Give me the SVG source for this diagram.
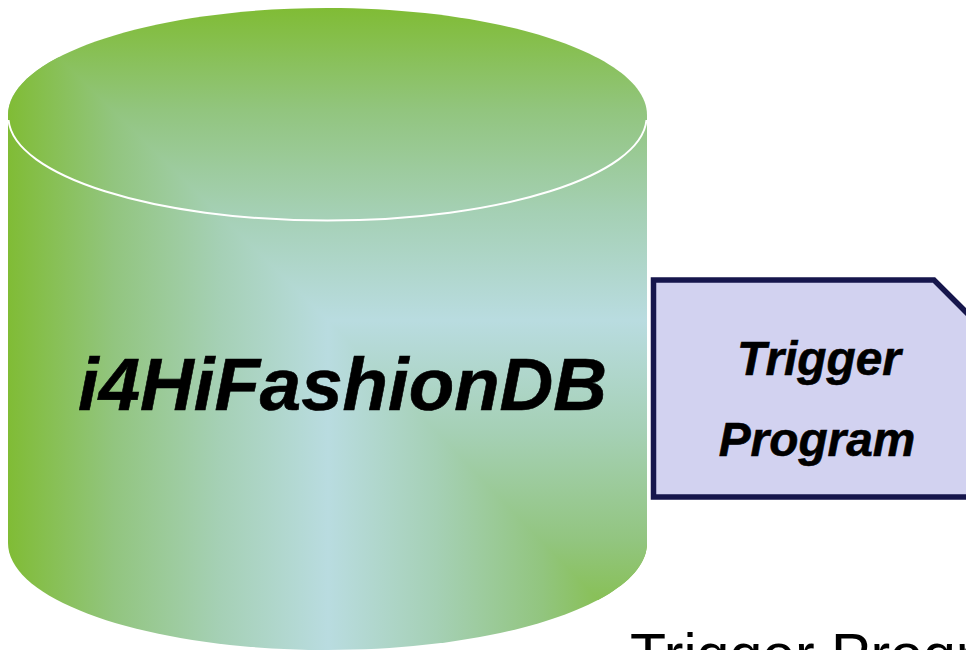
<svg xmlns="http://www.w3.org/2000/svg" width="966" height="650" viewBox="0 0 966 650">
<style>
.b{font-family:"Liberation Sans",Arial,sans-serif;font-weight:bold;font-style:italic;fill:#000;stroke:#000;stroke-width:.6;text-anchor:middle}
.r{font-family:"Liberation Sans",Arial,sans-serif;fill:#000}
</style>
<defs>
<linearGradient id="hl" gradientUnits="userSpaceOnUse" x1="8" y1="0" x2="328" y2="0"><stop offset="0" stop-color="#80BC35"/><stop offset=".33" stop-color="#92C57F"/><stop offset=".66" stop-color="#A5D0B5"/><stop offset="1" stop-color="#B9DCE0"/></linearGradient>
<linearGradient id="hr" gradientUnits="userSpaceOnUse" x1="647" y1="0" x2="328" y2="0"><stop offset="0" stop-color="#80BC35"/><stop offset=".33" stop-color="#92C57F"/><stop offset=".66" stop-color="#A5D0B5"/><stop offset="1" stop-color="#B9DCE0"/></linearGradient>
<linearGradient id="vt" gradientUnits="userSpaceOnUse" x1="0" y1="8" x2="0" y2="320"><stop offset="0" stop-color="#80BC35"/><stop offset=".33" stop-color="#92C57F"/><stop offset=".66" stop-color="#A5D0B5"/><stop offset="1" stop-color="#B9DCE0"/></linearGradient>
<linearGradient id="vb" gradientUnits="userSpaceOnUse" x1="0" y1="650" x2="0" y2="320"><stop offset="0" stop-color="#80BC35"/><stop offset=".33" stop-color="#92C57F"/><stop offset=".66" stop-color="#A5D0B5"/><stop offset="1" stop-color="#B9DCE0"/></linearGradient>
<clipPath id="cyl"><path d="M8 115C8 56 151 8 327.500 8S647 56 647 115V543C647 602 504 650 327.500 650S8 602 8 543Z"/></clipPath>
</defs>
<rect width="966" height="650" fill="#fff"/>
<g id="database">
<g clip-path="url(#cyl)">
<rect x="0" y="0" width="660" height="321" fill="url(#vt)"/>
<polygon points="0,0 328,320 328,321 0,321" fill="url(#hl)"/>
<rect x="0" y="320" width="328.500" height="335" fill="url(#hl)"/>
<rect x="328" y="320" width="330" height="335" fill="url(#hr)"/>
<polygon points="328,320 660,320 660,664" fill="url(#vb)"/>
</g>
<path d="M8.500 120C14 176 154 220.500 327.500 220.500S641 176 646.500 120" fill="none" stroke="#fff" stroke-width="2"/>
<text class="b" x="342.500" y="410" font-size="74.400">i4HiFashionDB</text>
</g>
<g id="trigger-program">
<path d="M653.500 280H934L974 320V497H653.500Z" fill="#D2D2F0" stroke="#16164C" stroke-width="5.500"/>
<text class="b" x="819" y="375" font-size="47.800">Trigger</text>
<text class="b" x="817" y="456" font-size="47.800">Program</text>
</g>
<g id="connectors"/>
<text class="r" x="630" y="675" font-size="59">Trigger Program</text>
</svg>
